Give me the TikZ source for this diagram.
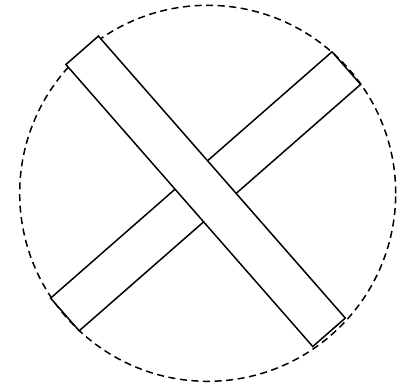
\documentclass[tikz,border=0pt]{standalone}
\begin{document}
\begin{tikzpicture}[x=0.02cm,y=0.02cm,line width=0.85pt]
\useasboundingbox (0,0) rectangle (403,387);
\draw[dash pattern=on 4pt off 2.6pt] (207.7,193.7) circle (188);
\begin{scope}[shift={(205.6,195.7)},rotate=41.2]
  \draw[fill=white] (-187,-21.7) rectangle (187,21.7);
\end{scope}
\begin{scope}[shift={(205.6,195.7)},rotate=-48.8]
  \draw[fill=white] (-187.4,-21.6) rectangle (187.4,21.6);
\end{scope}
\end{tikzpicture}
\end{document}
